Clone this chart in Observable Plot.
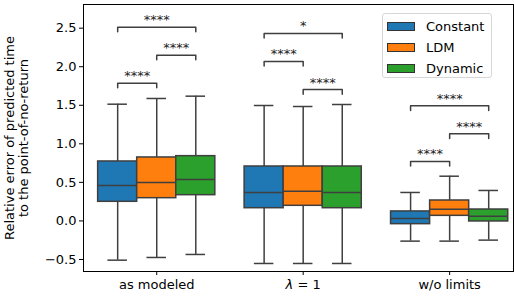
<!DOCTYPE html>
<html>
<head>
<meta charset="utf-8">
<script src="https://cdn.jsdelivr.net/npm/d3@7"></script>
<script src="https://cdn.jsdelivr.net/npm/@observablehq/plot@0.6"></script>
<style>
  html, body { margin: 0; padding: 0; background: #fff; }
  #wrap { position: relative; width: 514px; height: 300px; font-family: "DejaVu Sans", sans-serif; }
  #legend { position: absolute; left: 382px; top: 13px; width: 110px; height: 65px;
            border: 1px solid #d6d6d6; border-radius: 3px; background: rgba(255,255,255,0.8);
            box-sizing: border-box; font-size: 13px; color: #000; }
  .row { position: absolute; left: 4px; height: 14px; display: flex; align-items: center; }
  .sw { width: 28px; height: 9px; border: 1px solid #333; box-sizing: border-box; margin-right: 11px; }
</style>
</head>
<body>
<div id="wrap"><div id="legend"></div></div>
<script>
const categories = ["as modeled", "λ = 1", "w/o limits"];
const methods = ["Constant", "LDM", "Dynamic"];
const colors = ["#1f77b4", "#ff7f0e", "#2ca02c"];

// per box, ordered category-major, method-minor
const whiskerLow = [-0.509, -0.474, -0.435, -0.552, -0.552, -0.552, -0.262, -0.262, -0.249];
const quartile1  = [0.248, 0.295, 0.334, 0.165, 0.196, 0.165, -0.042, 0.066, -0.007];
const medians    = [0.460, 0.499, 0.537, 0.369, 0.386, 0.369, 0.032, 0.153, 0.062];
const quartile3  = [0.771, 0.823, 0.840, 0.706, 0.706, 0.706, 0.123, 0.265, 0.148];
const whiskerHigh = [1.514, 1.588, 1.618, 1.497, 1.484, 1.510, 0.369, 0.580, 0.395];

// significance annotations
const annCategory = [0, 0, 0, 1, 1, 1, 2, 2, 2];
const annFrom     = [0, 1, 0, 0, 1, 0, 0, 1, 0];
const annTo       = [1, 2, 2, 1, 2, 2, 1, 2, 2];
const annLevel    = [1.787, 2.150, 2.513, 2.068, 1.704, 2.431, 0.771, 1.130, 1.493];
const annLabel    = ["****", "****", "****", "****", "****", "*", "****", "****", "****"];

const yTicks = [-0.5, 0.0, 0.5, 1.0, 1.5, 2.0, 2.5];
const yLabel = "Relative error of predicted time\nto the point-of-no-return";

const groupWidth = 0.8;
const boxW = groupWidth / methods.length;
const pos = (c, m) => c + (m - (methods.length - 1) / 2) * boxW;

const boxes = [];
categories.forEach((cat, c) => methods.forEach((meth, m) => {
  const i = c * methods.length + m;
  boxes.push({cat, meth, x: pos(c, m), lo: whiskerLow[i], q1: quartile1[i], med: medians[i], q3: quartile3[i], hi: whiskerHigh[i]});
}));

const drop = 0.06;
const bracketPts = [];
const bracketTxt = [];
annLevel.forEach((lvl, k) => {
  const xa = pos(annCategory[k], annFrom[k]), xb = pos(annCategory[k], annTo[k]);
  bracketPts.push({k, x: xa, y: lvl - drop}, {k, x: xa, y: lvl}, {k, x: xb, y: lvl}, {k, x: xb, y: lvl - drop});
  bracketTxt.push({x: (xa + xb) / 2, y: lvl, t: annLabel[k]});
});

const edge = "#3f3f3f";
const lw = 1.5;

const chart = Plot.plot({
  width: 514, height: 300,
  marginLeft: 83, marginRight: 1, marginTop: 4, marginBottom: 29,
  style: {fontFamily: "DejaVu Sans, sans-serif", fontSize: "13px", color: "#000", background: "#fff"},
  x: {type: "linear", domain: [-0.5, 2.436], axis: null},
  y: {domain: [-0.656, 2.807], axis: null},
  color: {domain: methods, range: colors},
  marks: [
    Plot.ruleX(boxes, {x: "x", y1: "lo", y2: "q1", stroke: edge, strokeWidth: lw}),
    Plot.ruleX(boxes, {x: "x", y1: "q3", y2: "hi", stroke: edge, strokeWidth: lw}),
    Plot.ruleY(boxes, {y: "lo", x1: d => d.x - boxW / 4, x2: d => d.x + boxW / 4, stroke: edge, strokeWidth: lw}),
    Plot.ruleY(boxes, {y: "hi", x1: d => d.x - boxW / 4, x2: d => d.x + boxW / 4, stroke: edge, strokeWidth: lw}),
    Plot.rect(boxes, {x1: d => d.x - boxW / 2, x2: d => d.x + boxW / 2, y1: "q1", y2: "q3", fill: "meth", stroke: edge, strokeWidth: lw}),
    Plot.ruleY(boxes, {y: "med", x1: d => d.x - boxW / 2, x2: d => d.x + boxW / 2, stroke: edge, strokeWidth: lw}),
    Plot.line(bracketPts, {x: "x", y: "y", z: "k", stroke: edge, strokeWidth: lw, curve: "linear"}),
    Plot.text(bracketTxt, {x: "x", y: "y", text: "t", lineAnchor: "bottom", dy: -3, fill: "#222", fontSize: 13}),
    Plot.axisY({ticks: yTicks, tickFormat: d3.format(".1f"), tickSize: 4, tickPadding: 3, fontSize: 13, stroke: "#000", label: null}),
    Plot.axisX({ticks: [0, 1, 2], tickFormat: i => categories[i], tickSize: 4, tickPadding: 4, fontSize: 13, stroke: "#000", label: null}),
    Plot.text([yLabel], {frameAnchor: "left", rotate: -90, dx: -67, lineHeight: 1.05, textAnchor: "middle", fontSize: 13, fill: "#000"}),
    Plot.frame({stroke: "#000", strokeWidth: 1})
  ]
});

document.getElementById("wrap").prepend(chart);

// italic lambda as in the matplotlib mathtext label
d3.select(chart).selectAll("text").each(function() {
  if (this.textContent === "λ = 1") {
    const t = d3.select(this);
    t.text("");
    t.append("tspan").attr("font-style", "italic").text("λ");
    t.append("tspan").text(" = 1");
  }
});

const legend = document.getElementById("legend");
methods.forEach((m, i) => {
  const row = document.createElement("div");
  row.className = "row";
  row.style.top = (5 + i * 21) + "px";
  const sw = document.createElement("div");
  sw.className = "sw";
  sw.style.background = colors[i];
  const lab = document.createElement("span");
  lab.textContent = m;
  row.appendChild(sw); row.appendChild(lab);
  legend.appendChild(row);
});
</script>
</body>
</html>
